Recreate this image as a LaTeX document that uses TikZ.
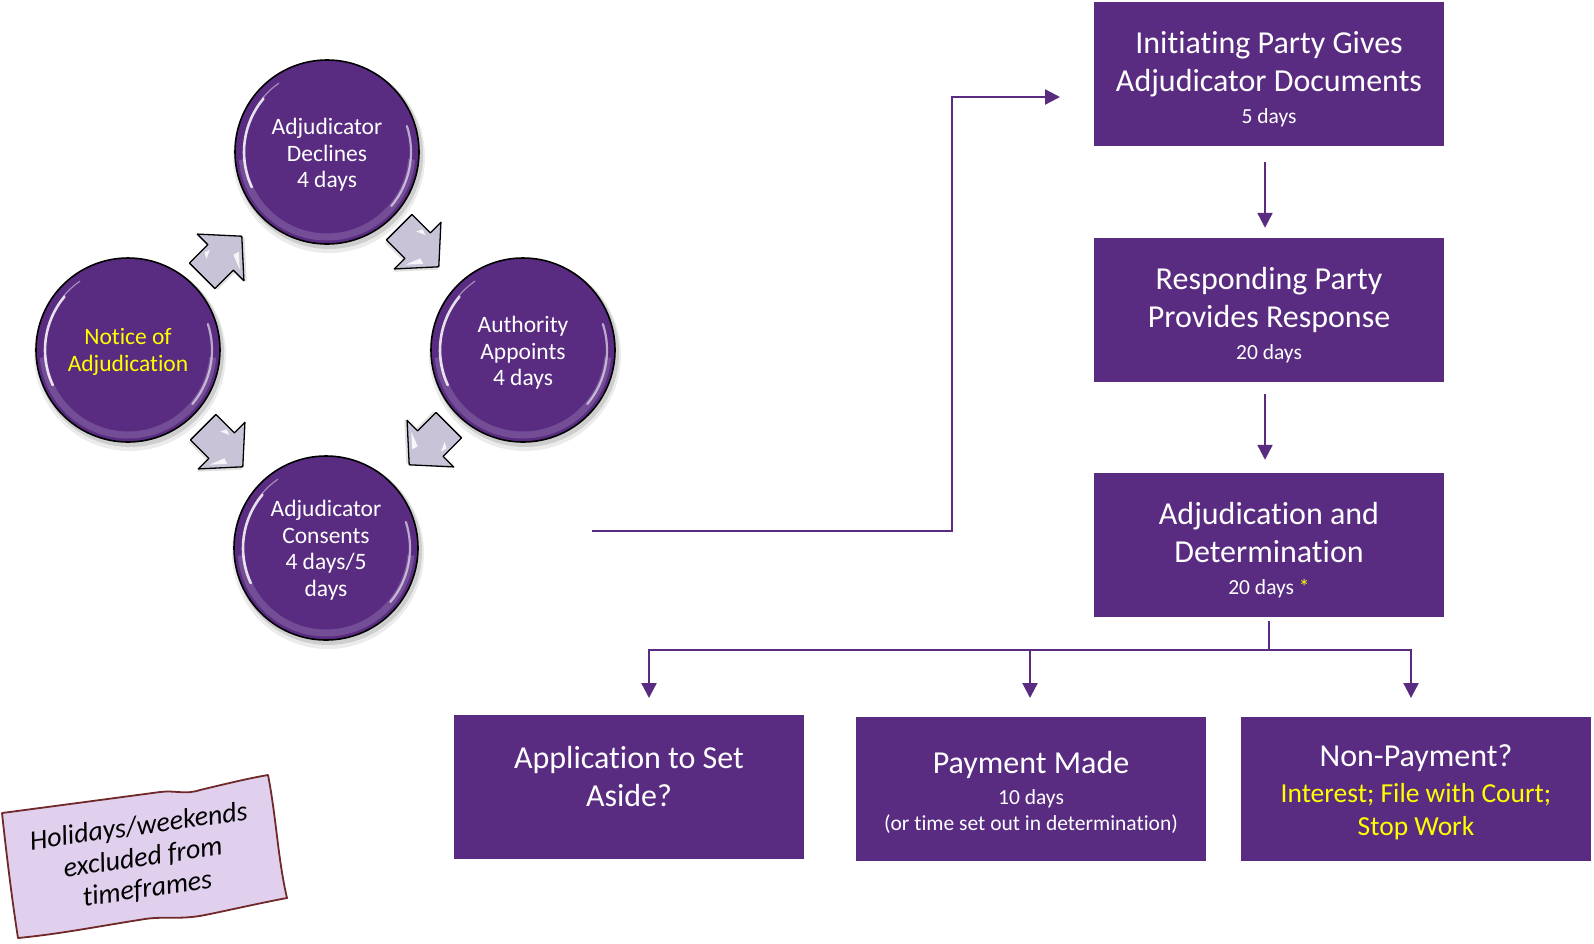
\documentclass[tikz,border=0pt]{standalone}
\usepackage{fontspec}
\setmainfont{Carlito}[Ligatures=NoCommon]
\usetikzlibrary{arrows.meta}
\definecolor{purp}{RGB}{89,44,130}
\definecolor{notefill}{RGB}{224,208,238}
\definecolor{noteedge}{RGB}{112,40,40}
\definecolor{arrowgray}{RGB}{200,195,214}
\definecolor{hiyellow}{RGB}{255,255,0}
\newcommand\daysfont{\fontsize{21.5}{26}\selectfont}
\newcommand\yellfont{\fontsize{27.5}{33}\selectfont}

% soft shadow under a ball
\newcommand\ballshadow[2]{%
  \begin{scope}[shift={(#1,#2)}, yscale=-1]
    \fill[black, opacity=0.08] (2,-5) circle (96);
    \fill[black, opacity=0.12] (2,-3) circle (94);
  \end{scope}}
% glossy rim highlights on a ball
\newcommand\ballgloss[2]{%
  \begin{scope}[shift={(#1,#2)}, yscale=-1]
    \draw[white, opacity=0.16, line width=7pt] (185:85) arc (185:355:85);
    \draw[white, opacity=0.85, line width=2.6pt, line cap=round] (140:83) arc (140:205:83);
    \draw[white, opacity=0.45, line width=1.2pt, line cap=round] (125:84) arc (125:140:84);
    \draw[white, opacity=0.6, line width=2.2pt, line cap=round] (-40:84) arc (-40:18:84);
  \end{scope}}
% grey block arrow of the appointment cycle
\newcommand\cyclearrow[3]{%
  \begin{scope}[shift={(#1,#2)}, rotate=#3, yscale=-1]
    \fill[black, opacity=0.12] (29,-3) -- (-1,30) -- (-1,15) -- (-27,15) -- (-27,-21) -- (-1,-21) -- (-1,-36) -- cycle;
    \draw[fill=arrowgray, draw=black, line width=1.3pt, line join=round]
      (28,0) -- (-2,33) -- (-2,18) -- (-28,18) -- (-28,-18) -- (-2,-18) -- (-2,-33) -- cycle;
    \fill[white, opacity=0.85] (3,-22) -- (15,-9) -- (9,-7) -- cycle;
    \fill[white, opacity=0.85] (-13,9) -- (-4,13) -- (-10,15) -- cycle;
  \end{scope}}

\begin{document}
\begin{tikzpicture}[x=1pt, y=-1pt,
  stagebox/.style={fill=purp, draw=none, minimum width=350pt, minimum height=144pt, inner sep=0pt},
  boxtext/.style={text=white, align=center, inner sep=0pt, font=\fontsize{32}{38}\selectfont},
  ball/.style={circle, fill=purp, draw=black, line width=1.6pt, minimum size=184pt, inner sep=0pt,
    text=white, align=center, font=\fontsize{23.5}{26.5}\selectfont},
  conn/.style={draw=purp, line width=2.3pt},
  tip/.style={-{Triangle[length=15pt, width=15pt]}},
  notetext/.style={align=center, inner sep=0pt, font=\itshape\fontsize{28}{31.5}\selectfont}
]
\useasboundingbox (0,0) rectangle (1594,943);

% ---- appointment cycle ----
\ballshadow{327}{152}
\ballshadow{128}{350}
\ballshadow{523}{350}
\ballshadow{326}{548}
\node[ball] (declines) at (327,152) {};
\node[ball] (notice) at (128,350) {};
\node[ball] (appoints) at (523,350) {};
\node[ball] (consents) at (326,548) {};
\ballgloss{327}{152}
\ballgloss{128}{350}
\ballgloss{523}{350}
\ballgloss{326}{548}
\node[ball, draw=none, fill=none, minimum size=0pt] (declinest) at ([yshift=-3pt]declines.center) {Adjudicator\\Declines\\4 days};
\node[ball, draw=none, fill=none, minimum size=0pt, text=hiyellow] (noticet) at ([yshift=-2pt]notice.center) {Notice of\\Adjudication};
\node[ball, draw=none, fill=none, minimum size=0pt] (appointst) at ([yshift=-3pt]appoints.center) {Authority\\Appoints\\4 days};
\node[ball, draw=none, fill=none, minimum size=0pt] (consentst) at ([yshift=-2pt]consents.center) {Adjudicator\\Consents\\4 days/5\\days};

\cyclearrow{222}{256}{45}
\cyclearrow{419}{247}{-45}
\cyclearrow{429}{445}{-135}
\cyclearrow{223}{447}{-45}

% ---- process boxes ----
\node[stagebox] (b1) at (1269,74) {};
\node[boxtext] (b1t) at (1269,79) {Initiating Party Gives\\Adjudicator Documents\\[-6pt]{\daysfont 5 days}};
\node[stagebox] (b2) at (1269,310) {};
\node[boxtext] (b2t) at (1269,315) {Responding Party\\Provides Response\\[-6pt]{\daysfont 20 days}};
\node[stagebox] (b3) at (1269,545) {};
\node[boxtext] (b3t) at (1269,550) {Adjudication and\\Determination\\[-6pt]{\daysfont 20 days {\color{hiyellow}*}}};

\node[stagebox] (bA) at (629,786.5) {};
\node[boxtext] (bAt) at (629,776) {Application to Set\\Aside?};
\node[stagebox] (bB) at (1031,788.5) {};
\node[boxtext] (bBt) at (1031,792) {Payment Made\\[-7pt]{\daysfont 10 days}\\[-12pt]{\daysfont (or time set out in determination)}};
\node[stagebox] (bC) at (1416,788.5) {};
\node[boxtext] (bCt) at (1416,792) {Non-Payment?\\[-2pt]{\yellfont\color{hiyellow}Interest; File with Court;}\\[-5pt]{\yellfont\color{hiyellow}Stop Work}};

% ---- connectors ----
\coordinate (loopout) at (592,531);
\coordinate (docin) at (1060,97);
\draw[conn, tip] (loopout) -- (952,531) -- (952,97) -- (docin);

\draw[conn, tip] ([xshift=-4pt, yshift=-16pt]b1.south) -- ([xshift=-4pt, yshift=10pt]b2.north);
\draw[conn, tip] ([xshift=-4pt, yshift=-12pt]b2.south) -- ([xshift=-4pt, yshift=13pt]b3.north);

\coordinate (split) at (1269,650);
\coordinate (tA) at (649,698);
\coordinate (tB) at (1030,698);
\coordinate (tC) at (1411,698);
\draw[conn] ([yshift=-4pt]b3.south) -- (split);
\draw[conn, tip] (split) -| (tA);
\draw[conn, tip] (split) -| (tB);
\draw[conn, tip] (split) -| (tC);

% ---- note on excluded days ----
\draw[fill=notefill, draw=noteedge, line width=1.8pt, line join=round]
  (2,813) .. controls (40,808) and (100,800) .. (160,792)
  .. controls (175,790) and (185,795) .. (200,790)
  .. controls (225,784) and (250,778) .. (268,775)
  .. controls (276,815) and (278,860) .. (287,898)
  .. controls (260,903) and (230,910) .. (205,915)
  .. controls (180,920) and (165,916) .. (145,919)
  .. controls (100,926) and (60,934) .. (18,938)
  .. controls (12,900) and (6,850) .. cycle;
\node[notetext, rotate=8] (note) at (143,858) {Holidays/weekends\\excluded from\\timeframes};
\end{tikzpicture}
\end{document}
